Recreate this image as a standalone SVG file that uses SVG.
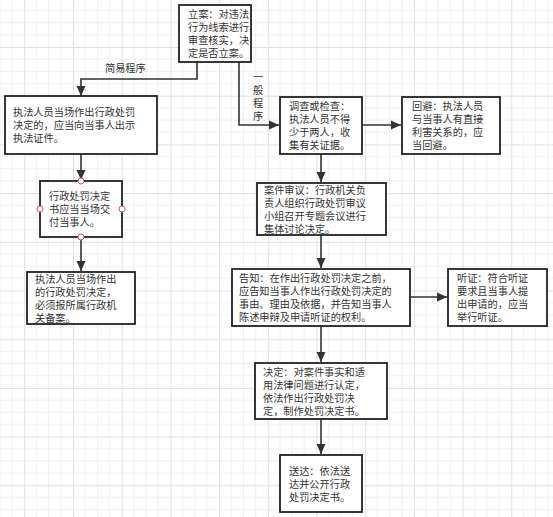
<svg xmlns="http://www.w3.org/2000/svg" width="553" height="517" viewBox="0 0 553 517">
<defs>
<pattern id="grid" patternUnits="userSpaceOnUse" x="24.3" y="-1.7" width="48.7" height="48.7">
<path d="M12.175,0V48.7M24.35,0V48.7M36.525,0V48.7M0,12.175H48.7M0,24.35H48.7M0,36.525H48.7" stroke="#efefef" stroke-width="1" fill="none"/>
<path d="M0.5,0V48.7M0,0.5H48.7" stroke="#e0e0e0" stroke-width="1" fill="none"/>
</pattern>
<marker id="arr" markerUnits="userSpaceOnUse" markerWidth="10" markerHeight="10" viewBox="0 0 10 10" refX="10" refY="5" orient="auto">
<path d="M0,0.5 L10,5 L0,9.5 z" fill="#333"/>
</marker>
</defs>
<style>
.box{fill:#fff;stroke:#222;stroke-width:1.8}
.t{font-family:"Noto Sans CJK SC","Noto Sans",sans-serif;font-size:10.2px;fill:#333}
.c{fill:none;stroke:#333;stroke-width:1.6;marker-end:url(#arr)}
.pt{fill:#fff;stroke:#b35c7a;stroke-width:1}
</style>
<rect width="553" height="517" fill="#fff"/>
<rect width="553" height="517" fill="url(#grid)"/>

<g id="connectors">
<path class="c" d="M197,62V79H81V96"/>
<path class="c" d="M239,62V125H279"/>
<path class="c" d="M81,154V180"/>
<path class="c" d="M81,237V271"/>
<path class="c" d="M362,125H401"/>
<path class="c" d="M321,154V182"/>
<path class="c" d="M321,235V268"/>
<path class="c" d="M410,297H447"/>
<path class="c" d="M321,326V362"/>
<path class="c" d="M321,419V454"/>
<text class="t" x="105" y="72">简易程序</text>
<text class="t" text-anchor="middle"><tspan x="258" y="81">一</tspan><tspan x="258" dy="13">般</tspan><tspan x="258" dy="13">程</tspan><tspan x="258" dy="13">序</tspan></text>
</g>

<g id="node-lian">
<rect class="box" x="179" y="5" width="72" height="57"/>
<text class="t"><tspan x="188" y="18">立案：对违法</tspan><tspan x="188" dy="13">行为线索进行</tspan><tspan x="188" dy="13">审查核实，决</tspan><tspan x="188" dy="13">定是否立案。</tspan></text>
</g>

<g id="node-jianyi">
<rect class="box" x="5" y="96" width="152" height="58"/>
<text class="t"><tspan x="13" y="116">执法人员当场作出行政处罚</tspan><tspan x="13" dy="13">决定的，应当向当事人出示</tspan><tspan x="13" dy="13">执法证件。</tspan></text>
</g>

<g id="node-jiaofu">
<rect class="box" x="40" y="181" width="82" height="56"/>
<text class="t"><tspan x="49" y="200">行政处罚决定</tspan><tspan x="49" dy="13">书应当当场交</tspan><tspan x="49" dy="13">付当事人。</tspan></text>
<circle class="pt" cx="81" cy="181" r="3"/>
<circle class="pt" cx="81" cy="237" r="3"/>
<circle class="pt" cx="40" cy="209" r="3"/>
<circle class="pt" cx="122" cy="209" r="3"/>
</g>

<g id="node-beian">
<rect class="box" x="27" y="272" width="108" height="52"/>
<text class="t"><tspan x="35" y="282.5">执法人员当场作出</tspan><tspan x="35" dy="13">的行政处罚决定，</tspan><tspan x="35" dy="13">必须报所属行政机</tspan><tspan x="35" dy="13">关备案。</tspan></text>
</g>

<g id="node-diaocha">
<rect class="box" x="280" y="97" width="82" height="57"/>
<text class="t"><tspan x="289" y="110">调查或检查：</tspan><tspan x="289" dy="13">执法人员不得</tspan><tspan x="289" dy="13">少于两人，收</tspan><tspan x="289" dy="13">集有关证据。</tspan></text>
</g>

<g id="node-huibi">
<rect class="box" x="402" y="97" width="98" height="57"/>
<text class="t"><tspan x="412" y="110">回避：执法人员</tspan><tspan x="412" dy="13">与当事人有直接</tspan><tspan x="412" dy="13">利害关系的，应</tspan><tspan x="412" dy="13">当回避。</tspan></text>
</g>

<g id="node-shenyi">
<rect class="box" x="257" y="183" width="129" height="52"/>
<text class="t"><tspan x="264" y="193.5">案件审议：行政机关负</tspan><tspan x="264" dy="13">责人组织行政处罚审议</tspan><tspan x="264" dy="13">小组召开专题会议进行</tspan><tspan x="264" dy="13">集体讨论决定。</tspan></text>
</g>

<g id="node-gaozhi">
<rect class="box" x="232" y="269" width="178" height="57"/>
<text class="t"><tspan x="239" y="282">告知：在作出行政处罚决定之前，</tspan><tspan x="239" dy="13">应告知当事人作出行政处罚决定的</tspan><tspan x="239" dy="13">事由、理由及依据，并告知当事人</tspan><tspan x="239" dy="13">陈述申辩及申请听证的权利。</tspan></text>
</g>

<g id="node-tingzheng">
<rect class="box" x="448" y="269" width="99" height="57"/>
<text class="t"><tspan x="457" y="282">听证：符合听证</tspan><tspan x="457" dy="13">要求且当事人提</tspan><tspan x="457" dy="13">出申请的，应当</tspan><tspan x="457" dy="13">举行听证。</tspan></text>
</g>

<g id="node-jueding">
<rect class="box" x="255" y="363" width="132" height="56"/>
<text class="t"><tspan x="263" y="375.5">决定：对案件事实和适</tspan><tspan x="263" dy="13">用法律问题进行认定，</tspan><tspan x="263" dy="13">依法作出行政处罚决</tspan><tspan x="263" dy="13">定，制作处罚决定书。</tspan></text>
</g>

<g id="node-songda">
<rect class="box" x="280" y="455" width="82" height="57"/>
<text class="t"><tspan x="289" y="474.5">送达：依法送</tspan><tspan x="289" dy="13">达并公开行政</tspan><tspan x="289" dy="13">处罚决定书。</tspan></text>
</g>
</svg>
